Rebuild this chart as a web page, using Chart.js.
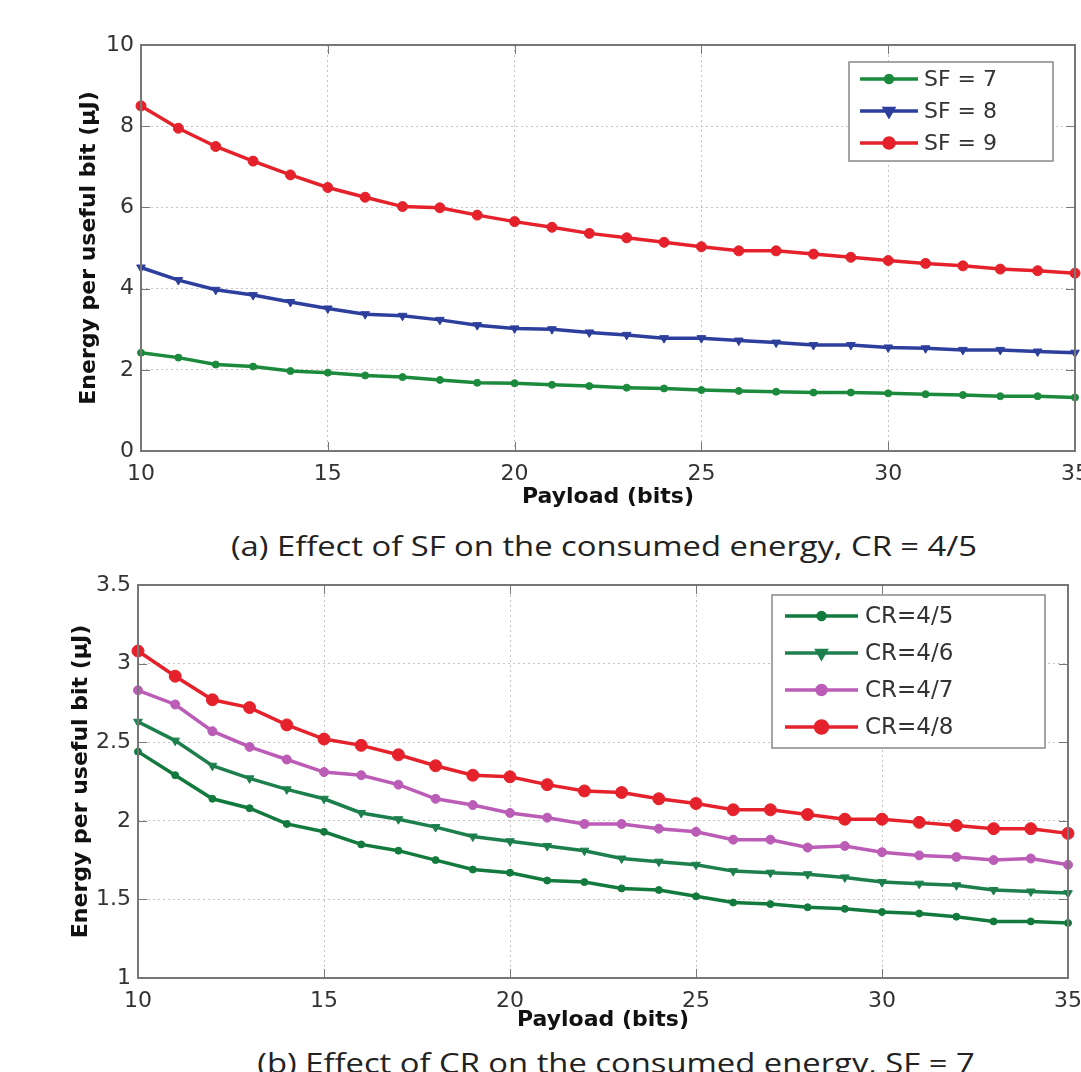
<!DOCTYPE html>
<html lang="en">
<head>
    <meta charset="UTF-8">
    <title>Energy per useful bit vs payload</title>
    <script src="https://cdn.jsdelivr.net/npm/chart.js"></script>
    <style>
        html, body {
            margin: 0;
            padding: 0;
            background: #fff;
            width: 1081px;
            height: 1072px;
            overflow: hidden;
        }
        .panel {
            position: absolute;
            left: 0;
        }
        .caption {
            position: absolute;
            transform: translate(-50%, -50%) scaleX(1.17);
            white-space: nowrap;
            font-family: 'Open Sans', sans-serif;
            font-size: 28px;
            color: #222;
        }
    </style>
</head>
<body>
    <div class="panel" style="top: 0;">
        <canvas id="chartSF" width="1081" height="510"></canvas>
    </div>
    <div class="caption" style="left: 604px; top: 545px;">(a) Effect of SF on the consumed energy, CR = 4/5</div>

    <div class="panel" style="top: 560px;">
        <canvas id="chartCR" width="1081" height="473"></canvas>
    </div>
    <div class="caption" style="left: 616px; top: 1062px;">(b) Effect of CR on the consumed energy, SF = 7</div>

    <script>
        // payload sizes (bits)
        const payload = [10, 11, 12, 13, 14, 15, 16, 17, 18, 19, 20, 21, 22,
                         23, 24, 25, 26, 27, 28, 29, 30, 31, 32, 33, 34, 35];

        // (a) CR = 4/5
        const sf7 = [2.42, 2.30, 2.13, 2.08, 1.97, 1.93, 1.86, 1.82, 1.75, 1.68, 1.67, 1.63, 1.60,
                     1.56, 1.54, 1.50, 1.48, 1.46, 1.44, 1.44, 1.42, 1.40, 1.38, 1.35, 1.35, 1.32];
        const sf8 = [4.52, 4.21, 3.97, 3.84, 3.67, 3.51, 3.37, 3.33, 3.23, 3.10, 3.02, 3.00, 2.92,
                     2.86, 2.78, 2.78, 2.72, 2.67, 2.61, 2.61, 2.55, 2.53, 2.49, 2.49, 2.45, 2.42];
        const sf9 = [8.50, 7.95, 7.50, 7.14, 6.80, 6.49, 6.25, 6.02, 5.99, 5.81, 5.65, 5.51, 5.36,
                     5.25, 5.14, 5.03, 4.93, 4.93, 4.85, 4.77, 4.69, 4.62, 4.56, 4.48, 4.44, 4.38];

        // (b) SF = 7
        const cr45 = [2.44, 2.29, 2.14, 2.08, 1.98, 1.93, 1.85, 1.81, 1.75, 1.69, 1.67, 1.62, 1.61,
                      1.57, 1.56, 1.52, 1.48, 1.47, 1.45, 1.44, 1.42, 1.41, 1.39, 1.36, 1.36, 1.35];
        const cr46 = [2.63, 2.51, 2.35, 2.27, 2.20, 2.14, 2.05, 2.01, 1.96, 1.90, 1.87, 1.84, 1.81,
                      1.76, 1.74, 1.72, 1.68, 1.67, 1.66, 1.64, 1.61, 1.60, 1.59, 1.56, 1.55, 1.54];
        const cr47 = [2.83, 2.74, 2.57, 2.47, 2.39, 2.31, 2.29, 2.23, 2.14, 2.10, 2.05, 2.02, 1.98,
                      1.98, 1.95, 1.93, 1.88, 1.88, 1.83, 1.84, 1.80, 1.78, 1.77, 1.75, 1.76, 1.72];
        const cr48 = [3.08, 2.92, 2.77, 2.72, 2.61, 2.52, 2.48, 2.42, 2.35, 2.29, 2.28, 2.23, 2.19,
                      2.18, 2.14, 2.11, 2.07, 2.07, 2.04, 2.01, 2.01, 1.99, 1.97, 1.95, 1.95, 1.92];

        const xTicks = [10, 15, 20, 25, 30, 35];
        const yTicksSF = [0, 2, 4, 6, 8, 10];
        const yTicksCR = [1, 1.5, 2, 2.5, 3, 3.5];

        Chart.defaults.font.family = 'DejaVu Sans';
        Chart.defaults.color = '#333';

        const frameColor = '#777';

        // MATLAB style box with inward ticks on all four sides
        const framePlugin = {
            id: 'frame',
            afterDatasetsDraw(chart) {
                const { ctx, chartArea: a, scales } = chart;
                const len = 9;
                ctx.save();
                ctx.strokeStyle = frameColor;
                ctx.lineWidth = 1;
                ctx.beginPath();
                scales.x.ticks.forEach(t => {
                    const px = Math.round(scales.x.getPixelForValue(t.value)) + 0.5;
                    ctx.moveTo(px, a.bottom); ctx.lineTo(px, a.bottom - len);
                    ctx.moveTo(px, a.top); ctx.lineTo(px, a.top + len);
                });
                scales.y.ticks.forEach(t => {
                    const py = Math.round(scales.y.getPixelForValue(t.value)) + 0.5;
                    ctx.moveTo(a.left, py); ctx.lineTo(a.left + len, py);
                    ctx.moveTo(a.right, py); ctx.lineTo(a.right - len, py);
                });
                ctx.stroke();
                ctx.lineWidth = 2;
                ctx.strokeRect(a.left, a.top, a.right - a.left, a.bottom - a.top);
                ctx.restore();
            }
        };

        // boxed legend inside the plot, like the original figure
        const boxLegendPlugin = {
            id: 'boxLegend',
            afterDraw(chart, args, opts) {
                const { ctx } = chart;
                ctx.save();
                ctx.fillStyle = '#fff';
                ctx.fillRect(opts.left, opts.top, opts.width, opts.height);
                ctx.strokeStyle = '#888';
                ctx.lineWidth = 1.5;
                ctx.strokeRect(opts.left, opts.top, opts.width, opts.height);
                chart.data.datasets.forEach((ds, i) => {
                    const y = opts.firstRow + i * opts.rowGap;
                    ctx.strokeStyle = ds.borderColor;
                    ctx.lineWidth = ds.borderWidth;
                    ctx.beginPath();
                    ctx.moveTo(opts.lineX1, y);
                    ctx.lineTo(opts.lineX2, y);
                    ctx.stroke();
                    ctx.fillStyle = ds.backgroundColor;
                    Chart.helpers.drawPoint(ctx, {
                        pointStyle: ds.pointStyle,
                        radius: ds.pointRadius,
                        rotation: ds.pointRotation || 0,
                        borderWidth: 1
                    }, (opts.lineX1 + opts.lineX2) / 2, y);
                    ctx.fillStyle = '#333';
                    ctx.font = opts.fontSize + 'px "DejaVu Sans"';
                    ctx.textBaseline = 'middle';
                    ctx.textAlign = 'left';
                    ctx.fillText(ds.label, opts.textX, y + 1);
                });
                ctx.restore();
            }
        };

        function series(label, values, color, style, radius, rotation) {
            return {
                label: label,
                data: payload.map((p, i) => ({ x: p, y: values[i] })),
                borderColor: color,
                backgroundColor: color,
                borderWidth: 3.5,
                pointStyle: style,
                pointRadius: radius,
                pointRotation: rotation || 0,
                pointBorderWidth: 1,
                tension: 0,
                clip: false
            };
        }

        function makeOptions(cfg) {
            return {
                responsive: false,
                animation: false,
                layout: { padding: cfg.padding },
                plugins: {
                    legend: { display: false },
                    tooltip: { enabled: false },
                    boxLegend: cfg.legend
                },
                scales: {
                    x: {
                        type: 'linear',
                        min: 10,
                        max: 35,
                        afterBuildTicks: s => { s.ticks = xTicks.map(v => ({ value: v })); },
                        afterFit: s => { s.height = cfg.xHeight; s.paddingLeft = 0; s.paddingRight = 0; },
                        ticks: { padding: 10, font: { size: 22 }, color: '#333', maxRotation: 0,
                                 callback: v => String(v) },
                        grid: { color: '#c4c4c4', drawTicks: false },
                        border: { display: false, dash: [2, 3] },
                        title: {
                            display: true,
                            text: 'Payload (bits)',
                            color: '#111',
                            font: { size: 22, weight: 'bold' },
                            padding: 0
                        }
                    },
                    y: {
                        min: cfg.yMin,
                        max: cfg.yMax,
                        afterBuildTicks: s => { s.ticks = cfg.yTicks.map(v => ({ value: v })); },
                        afterFit: s => { s.width = cfg.yWidth; s.paddingTop = 0; s.paddingBottom = 0; },
                        ticks: { padding: 7, font: { size: 22 }, color: '#333',
                                 callback: v => String(v) },
                        grid: { color: '#c4c4c4', drawTicks: false },
                        border: { display: false, dash: [2, 3] },
                        title: {
                            display: true,
                            text: 'Energy per useful bit (μJ)',
                            color: '#111',
                            font: { size: 22, weight: 'bold' },
                            padding: 0
                        }
                    }
                }
            };
        }

        new Chart(document.getElementById('chartSF'), {
            type: 'line',
            data: {
                datasets: [
                    series('SF = 7', sf7, '#1b8a3c', 'circle', 3.5),
                    series('SF = 8', sf8, '#2d3f9c', 'triangle', 5, 180),
                    series('SF = 9', sf9, '#e5222b', 'circle', 5)
                ]
            },
            options: makeOptions({
                padding: { left: 76, right: 6, top: 45, bottom: 0 },
                xHeight: 59,
                yWidth: 65,
                yMin: 0, yMax: 10, yTicks: yTicksSF,
                legend: {
                    left: 849, top: 62, width: 204, height: 99,
                    lineX1: 860, lineX2: 918, textX: 924,
                    firstRow: 79, rowGap: 32, fontSize: 22
                }
            }),
            plugins: [framePlugin, boxLegendPlugin]
        });

        new Chart(document.getElementById('chartCR'), {
            type: 'line',
            data: {
                datasets: [
                    series('CR=4/5', cr45, '#137a3d', 'circle', 3.5),
                    series('CR=4/6', cr46, '#1c7f4c', 'triangle', 5, 180),
                    series('CR=4/7', cr47, '#bb5cb6', 'circle', 4.5),
                    series('CR=4/8', cr48, '#e5222b', 'circle', 6)
                ]
            },
            options: makeOptions({
                padding: { left: 68, right: 13, top: 25, bottom: 0 },
                xHeight: 55,
                yWidth: 70,
                yMin: 1, yMax: 3.5, yTicks: yTicksCR,
                legend: {
                    left: 772, top: 35, width: 273, height: 153,
                    lineX1: 785, lineX2: 858, textX: 865,
                    firstRow: 56, rowGap: 37, fontSize: 23
                }
            }),
            plugins: [framePlugin, boxLegendPlugin]
        });
    </script>
</body>
</html>
